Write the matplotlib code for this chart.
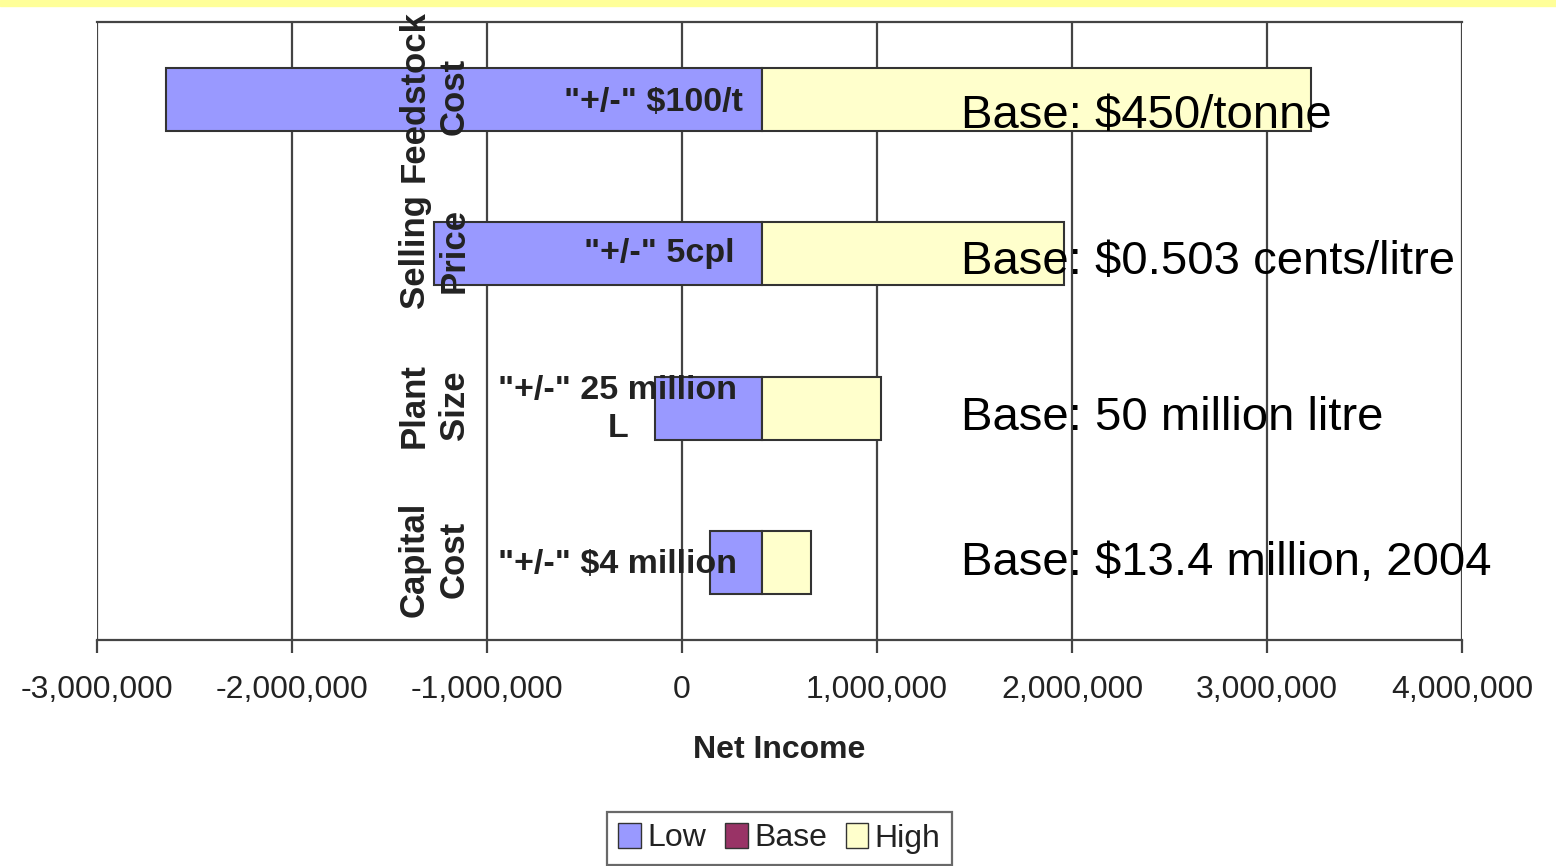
import matplotlib.pyplot as plt
from matplotlib.patches import Patch, Rectangle
from matplotlib.ticker import FuncFormatter

# Tornado data (net income, $)
categories = ["Capital\nCost", "Plant\nSize", "Selling\nPrice", "Feedstock\nCost"]
base_value = 410000
low_values = [144000, -138000, -1272000, -2646000]
high_values = [662000, 1021000, 1959000, 3226000]
range_labels = ['"+/-" $4 million', '"+/-" 25 million\nL', '"+/-" 5cpl', '"+/-" $100/t']
base_notes = ["Base: $13.4 million, 2004", "Base: 50 million litre",
              "Base: $0.503 cents/litre", "Base: $450/tonne"]
xticks = [-3000000, -2000000, -1000000, 0, 1000000, 2000000, 3000000, 4000000]

low_col = '#9999FF'
high_col = '#FFFFCC'
base_col = '#993366'
edge = '#333333'

fig = plt.figure(figsize=(15.56, 8.66), dpi=100)
fig.patches.append(Rectangle((0, 1 - 6 / 866), 1, 6 / 866, transform=fig.transFigure,
                             color='#FFFF99', zorder=0))
ax = fig.add_axes([97 / 1556, 1 - 640 / 866, 1365 / 1556, 618 / 866])

y = list(range(len(categories)))
ax.barh(y, [base_value - v for v in low_values], left=low_values, height=0.41,
        color=low_col, edgecolor=edge, linewidth=1.5, zorder=2)
ax.barh(y, [v - base_value for v in high_values], left=base_value, height=0.41,
        color=high_col, edgecolor=edge, linewidth=1.5, zorder=2)

ax.set_xlim(-3000000, 4000000)
ax.set_ylim(-0.5, 3.5)
ax.set_xticks(xticks)
ax.xaxis.set_major_formatter(FuncFormatter(lambda v, p: f"{v:,.0f}"))
ax.set_yticks([])
ax.grid(axis='x', color='#444444', linewidth=1.6, zorder=0)
ax.set_axisbelow(True)
for s in ['left', 'right']:
    ax.spines[s].set_visible(False)
for s in ['top', 'bottom']:
    ax.spines[s].set_color('#444444')
    ax.spines[s].set_linewidth(1.6)
ax.tick_params(axis='x', length=9, width=1.6, color='#444444', pad=16,
               labelsize=23, labelcolor='#222222')
for t in ax.get_xticklabels():
    t.set_fontfamily('Liberation Sans')
ax.set_xlabel("Net Income", fontsize=23, fontweight='bold', family='Liberation Sans',
              labelpad=22, color='#222222')

# category labels, rotated, sitting over the chart
for yi, cat in zip(y, categories):
    ax.text(-1270000, yi + 0.02, cat, rotation=90, ha='center', va='center', fontsize=25,
            fontweight='bold', family='Liberation Sans', color='#222222',
            linespacing=1.25, zorder=4)

# range labels inside bars
label_x = [-330000, -330000, -118000, -148000]
label_dy = [-0.01, -0.01, 0.0, -0.02]
for yi, txt, lx, dy in zip(y, range_labels, label_x, label_dy):
    ax.text(lx, yi + dy, txt, ha='center', va='center', fontsize=24.5,
            fontweight='bold', family='Liberation Sans', color='#222222',
            linespacing=1.3, zorder=4)

# base case notes on the right
note_dy = [0.0, -0.06, -0.055, -0.11]
for yi, txt, dy in zip(y, base_notes, note_dy):
    ax.text(1430000, yi + dy, txt, ha='left', va='center', fontsize=34,
            family='Liberation Sans', color='black', zorder=4)

handles = [Patch(facecolor=low_col, edgecolor=edge, label='Low'),
           Patch(facecolor=base_col, edgecolor=edge, label='Base'),
           Patch(facecolor=high_col, edgecolor=edge, label='High')]
leg = fig.legend(handles=handles, loc='upper center', bbox_to_anchor=(0.501, 1 - 812 / 866),
                 ncol=3, frameon=True, fancybox=False, edgecolor='#444444',
                 prop={'family': 'Liberation Sans', 'size': 23},
                 handlelength=0.7, handleheight=0.8, handletextpad=0.2,
                 columnspacing=0.6, borderpad=0.35, borderaxespad=0)
leg.get_frame().set_linewidth(1.6)
for t in leg.get_texts():
    t.set_color('#222222')

fig.savefig('out.png', dpi=100)
